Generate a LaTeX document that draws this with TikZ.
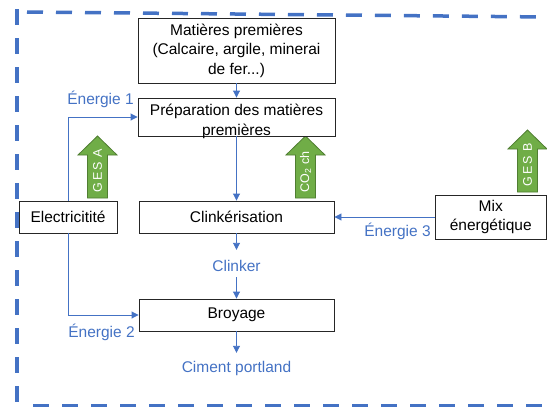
\documentclass[tikz,border=0pt]{standalone}
\usepackage{fontspec}
\setmainfont{Liberation Sans}
\usetikzlibrary{arrows.meta}
\definecolor{offblue}{HTML}{4472C4}
\definecolor{gesgreen}{HTML}{70AD47}
\definecolor{gesborder}{HTML}{507E32}
\newcommand\gesarrow[3]{%
  \filldraw[fill=gesgreen,draw=gesborder,line width=0.8pt]
    (#1-10,#3) -- (#1-10,#2+19) -- (#1-19.5,#2+19) -- (#1,#2)
    -- (#1+19.5,#2+19) -- (#1+10,#2+19) -- (#1+10,#3) -- cycle;}
\begin{document}
\begin{tikzpicture}[x=1pt,y=-1pt,
  every node/.style={font=\fontsize{15.5}{19.5}\selectfont},
  procbox/.style={draw=black!85,fill=white,line width=0.9pt,inner sep=0pt,align=center},
  bluelab/.style={text=offblue,inner sep=0pt,text height=11pt,text depth=3pt},
  flow/.style={draw=offblue,line width=0.9pt,-{Triangle[length=7pt,width=7pt]}},
  frame/.style={draw=offblue,line width=3.5pt,dash pattern=on 16pt off 13pt},
  gestext/.style={text=white,rotate=90,inner sep=0pt,font=\fontsize{12.5}{14}\selectfont}
  ]
\useasboundingbox (0,0) rectangle (547,407);
% dashed frame
\draw[frame] (27,12) -- (547,17);
\draw[frame] (17,9) -- (17,407);
\draw[frame] (33,406) -- (547,406);

% green arrows
\gesarrow{97.5}{136}{198}
\gesarrow{305.5}{136}{198}
\gesarrow{527.5}{130}{192}
\node[gestext] (gesA) at (97.5,171) {G\,E\,S\hspace{4.5pt}A};
\node[gestext] (co2) at (305.5,172) {CO\textsubscript{2} ch};
\node[gestext] (gesB) at (527.5,165) {G\,E\,S\hspace{4.5pt}B};

% boxes
\node[procbox,minimum width=197pt,minimum height=65pt] (mat) at (236.5,50.5)
  {Matières premières\\(Calcaire, argile, minerai\\de fer...)};
\node[procbox,minimum width=197pt,minimum height=38pt] (prep) at (236.5,117) {};
\node[inner sep=0pt,align=center] (preptext) at (236.5,121.5)
  {Préparation des matières\\premières};
\node[procbox,minimum width=98pt,minimum height=32pt] (elec) at (68,217) {Electricitité};
\node[procbox,minimum width=195pt,minimum height=32pt] (clink) at (236.5,217) {Clinkérisation};
\node[procbox,minimum width=195pt,minimum height=32pt] (broy) at (236.5,315) {Broyage};
\node[procbox,minimum width=111.5pt,minimum height=44pt] (mix) at (490.75,217)
  {Mix\\énergétique};

% blue labels
\node[bluelab] (clinker) at (236.5,267) {Clinker};
\node[bluelab] (ciment) at (236.5,368) {Ciment portland};
\node[bluelab] (e1) at (100.5,100) {Énergie 1};
\node[bluelab] (e2) at (101.5,333) {Énergie 2};
\node[bluelab] (e3) at (397.5,232) {Énergie 3};

% connectors
\draw[flow] (mat.south) -- (prep.north);
\draw[flow] (prep.south) -- (clink.north);
\draw[flow,shorten >=10pt] (clink.south) -- (clinker.north);
\draw[flow,shorten <=3pt] (clinker.south) -- (broy.north);
\draw[flow,shorten >=8pt] (broy.south) -- (ciment.north);
\draw[flow] (elec.north) |- (prep.west);
\draw[flow] (elec.south) |- (broy.west);
\draw[flow] (mix.west) -- (clink.east);
\end{tikzpicture}
\end{document}
